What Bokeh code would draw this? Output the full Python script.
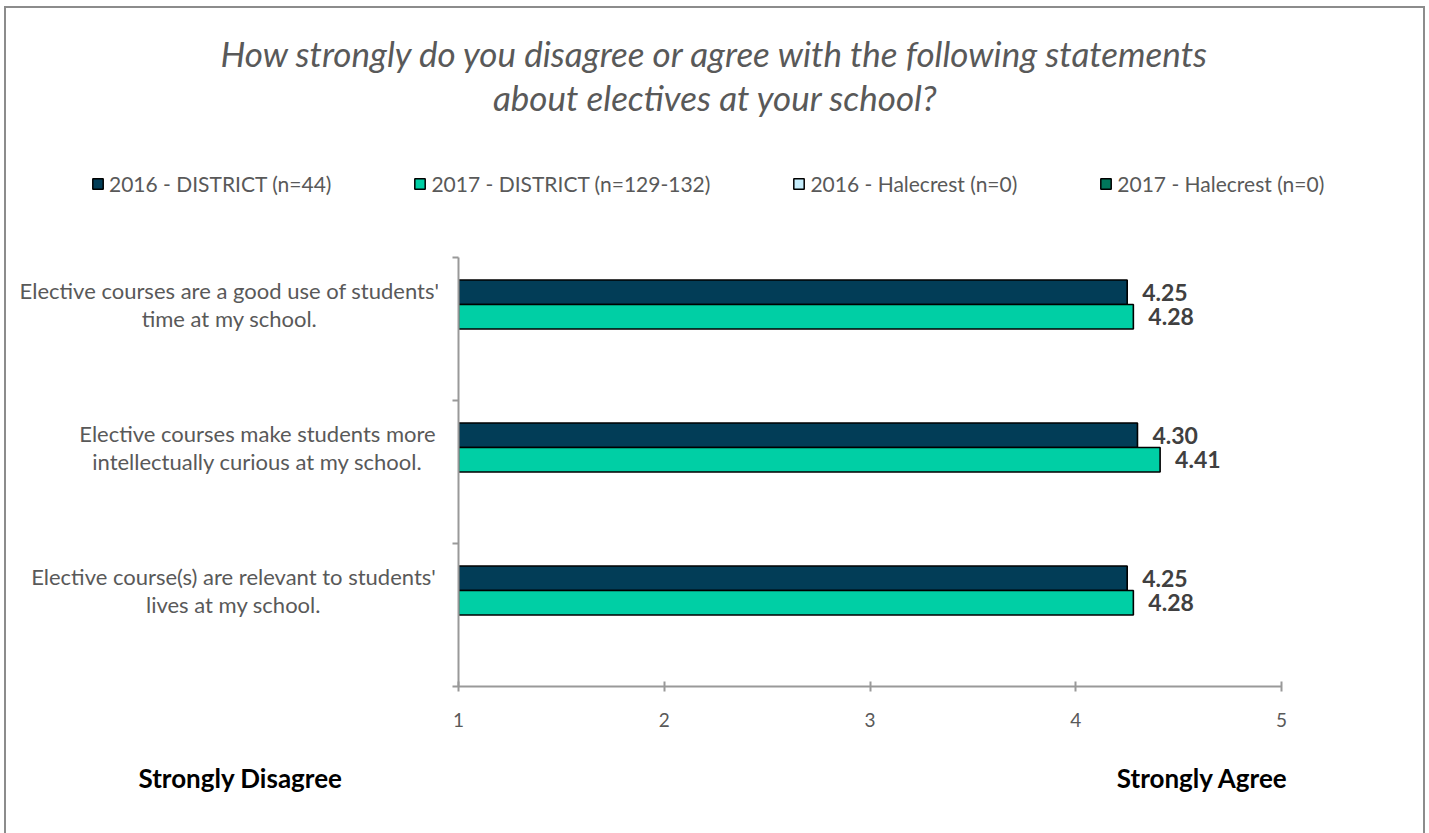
import numpy as np
from bokeh.plotting import figure
from bokeh.layouts import column, row
from bokeh.models import (Range1d, FixedTicker, LabelSet, Legend, LegendItem,
                          ColumnDataSource, InlineStyleSheet)
from bokeh.core.properties import value
from bokeh.embed import file_html
from bokeh.resources import INLINE

# ---------------- data ----------------
categories = [
    "Elective courses are a good use of students'\ntime at my school.",
    "Elective courses make students more\nintellectually curious at my school.",
    "Elective course(s) are relevant to students'\nlives at my school.",
]
series_names = ["2016 - DISTRICT (n=44)", "2017 - DISTRICT (n=129-132)",
                "2016 - Halecrest (n=0)", "2017 - Halecrest (n=0)"]
district_2016 = [4.25, 4.30, 4.25]
district_2017 = [4.28, 4.41, 4.28]
halecrest_2016 = [np.nan, np.nan, np.nan]
halecrest_2017 = [np.nan, np.nan, np.nan]
x_ticks = [1, 2, 3, 4, 5]
title_lines = ["How strongly do you disagree or agree with the following statements",
               "about electives at your school?"]
scale_low = "Strongly Disagree"
scale_high = "Strongly Agree"

# ---------------- style / layout ----------------
FONT = "Lato"
GREY = "#595959"
colors = ["#023d57", "#00cfa5", "#c6eefd", "#00775b"]
TOTAL_W = 1429
TOP_H = 247          # title + legend strip
LEFT_W = 438         # category label strip
MID_TOP, MID_BOT = 10, 60
FRAME_H = 429
MID_H = MID_TOP + FRAME_H + MID_BOT
BOT_H = 833 - TOP_H - MID_H
MAIN_W = TOTAL_W - LEFT_W
BAR_H = 0.1713
offsets = [1.5 * BAR_H, 0.5 * BAR_H, -0.5 * BAR_H, -1.5 * BAR_H]
n = len(categories)


def blank(w, h, **kw):
    f = figure(width=w, height=h, output_backend="svg", toolbar_location=None,
               x_axis_location=None, y_axis_location=None,
               min_border_left=0, min_border_right=0, **kw)
    f.outline_line_color = None
    f.grid.visible = False
    f.background_fill_color = "white"
    f.border_fill_color = "white"
    return f


# ---------- top strip: title + legend ----------
ft = blank(TOTAL_W, TOP_H, x_range=Range1d(0, TOTAL_W), y_range=Range1d(TOP_H, 0),
           min_border_top=0, min_border_bottom=0)
ft.text(x=[715, 715], y=[52, 96], text=title_lines, text_align="center",
        text_baseline="middle", text_font=value(FONT), text_font_style="italic",
        text_font_size="35px", text_color=GREY)
proxies = []
for col in colors:
    proxies.append(ft.hbar(y=[np.nan], left=[np.nan], right=[np.nan], height=1,
                           fill_color=col, line_color="#000000", line_width=1.5))
legend = Legend(items=[LegendItem(label=nm, renderers=[r]) for nm, r in zip(series_names, proxies)],
                orientation="horizontal", location=(91, TOP_H - 196),
                spacing=82, glyph_width=13, glyph_height=13, label_standoff=5,
                padding=0, margin=0, border_line_color=None,
                background_fill_alpha=0, label_height=20,
                label_text_font=FONT, label_text_font_size="21px",
                label_text_color=GREY)
ft.add_layout(legend, "center")

# ---------- main plot ----------
y_range = Range1d(0, n)
fm = figure(width=MAIN_W, height=MID_H, output_backend="svg", toolbar_location=None,
            x_range=Range1d(1, 5), y_range=y_range,
            min_border_left=20, min_border_right=148,
            min_border_top=MID_TOP, min_border_bottom=MID_BOT)
fm.outline_line_color = None
fm.xgrid.visible = False
fm.ygrid.visible = False
fm.background_fill_color = "white"
fm.border_fill_color = "white"

for s, (vals, col) in enumerate(zip([district_2016, district_2017, halecrest_2016, halecrest_2017], colors)):
    ys = [(n - 1 - i) + 0.5 + offsets[s] for i in range(n)]
    src = ColumnDataSource(dict(y=ys, right=list(vals), left=[x_ticks[0]] * n,
                                lab=["" if np.isnan(v) else f"{v:.2f}" for v in vals]))
    fm.hbar(y="y", left="left", right="right", height=BAR_H, source=src,
            fill_color=col, line_color="#000000", line_width=1.6)
    if s < 2:
        fm.add_layout(LabelSet(x="right", y="y", text="lab", source=src, x_offset=15,
                               text_baseline="middle", text_align="left",
                               text_font=value(FONT), text_font_style="bold",
                               text_font_size="23px", text_color="#404040"))

fm.xaxis.ticker = FixedTicker(ticks=x_ticks)
fm.xaxis.axis_line_color = "#999999"
fm.xaxis.axis_line_width = 2
fm.xaxis.major_tick_line_color = "#999999"
fm.xaxis.major_tick_line_width = 2
fm.xaxis.major_tick_in = 5
fm.xaxis.major_tick_out = 5
fm.xaxis.minor_tick_line_color = None
fm.xaxis.major_label_text_font = FONT
fm.xaxis.major_label_text_font_size = "19px"
fm.xaxis.major_label_text_color = GREY
fm.xaxis.major_label_standoff = 21

fm.yaxis.ticker = FixedTicker(ticks=list(range(n + 1)))
fm.yaxis.major_label_overrides = {i: "" for i in range(n + 1)}
fm.yaxis.axis_line_color = "#999999"
fm.yaxis.axis_line_width = 2
fm.yaxis.major_tick_line_color = "#999999"
fm.yaxis.major_tick_line_width = 2
fm.yaxis.major_tick_in = 0
fm.yaxis.major_tick_out = 6
fm.yaxis.minor_tick_line_color = None

# ---------- left strip: category labels (share y scale) ----------
fl = blank(LEFT_W, MID_H, x_range=Range1d(0, LEFT_W), y_range=y_range,
           min_border_top=MID_TOP, min_border_bottom=MID_BOT)
label_centres = [229, 257, 233]
fl.text(x=label_centres,
        y=[(n - 1 - i) + 0.5 + BAR_H for i in range(n)],
        text=categories, text_align="center", text_baseline="middle",
        text_font=value(FONT), text_font_size="22px", text_color=GREY,
        text_line_height=1.02)

# ---------- bottom strip: scale anchors ----------
fb = blank(TOTAL_W, BOT_H, x_range=Range1d(0, TOTAL_W), y_range=Range1d(BOT_H, 0),
           min_border_top=0, min_border_bottom=0)
fb.text(x=[240, 1202], y=[777 - TOP_H - MID_H] * 2, text=[scale_low, scale_high],
        text_align="center", text_baseline="middle", text_font=value(FONT),
        text_font_style="bold", text_font_size="26px", text_color="#000000")

frame_css = InlineStyleSheet(css="""
:host { position: relative; }
:host::after {
  content: ""; position: absolute; left: 4px; top: 6px; right: 4px; bottom: 0px;
  border: 2px solid #8c8c8c; border-bottom: none;
  pointer-events: none; z-index: 1000;
}
""")

layout = column(ft, row(fl, fm, spacing=0), fb, spacing=0, stylesheets=[frame_css])

open("out.html", "w").write(file_html(layout, INLINE))
